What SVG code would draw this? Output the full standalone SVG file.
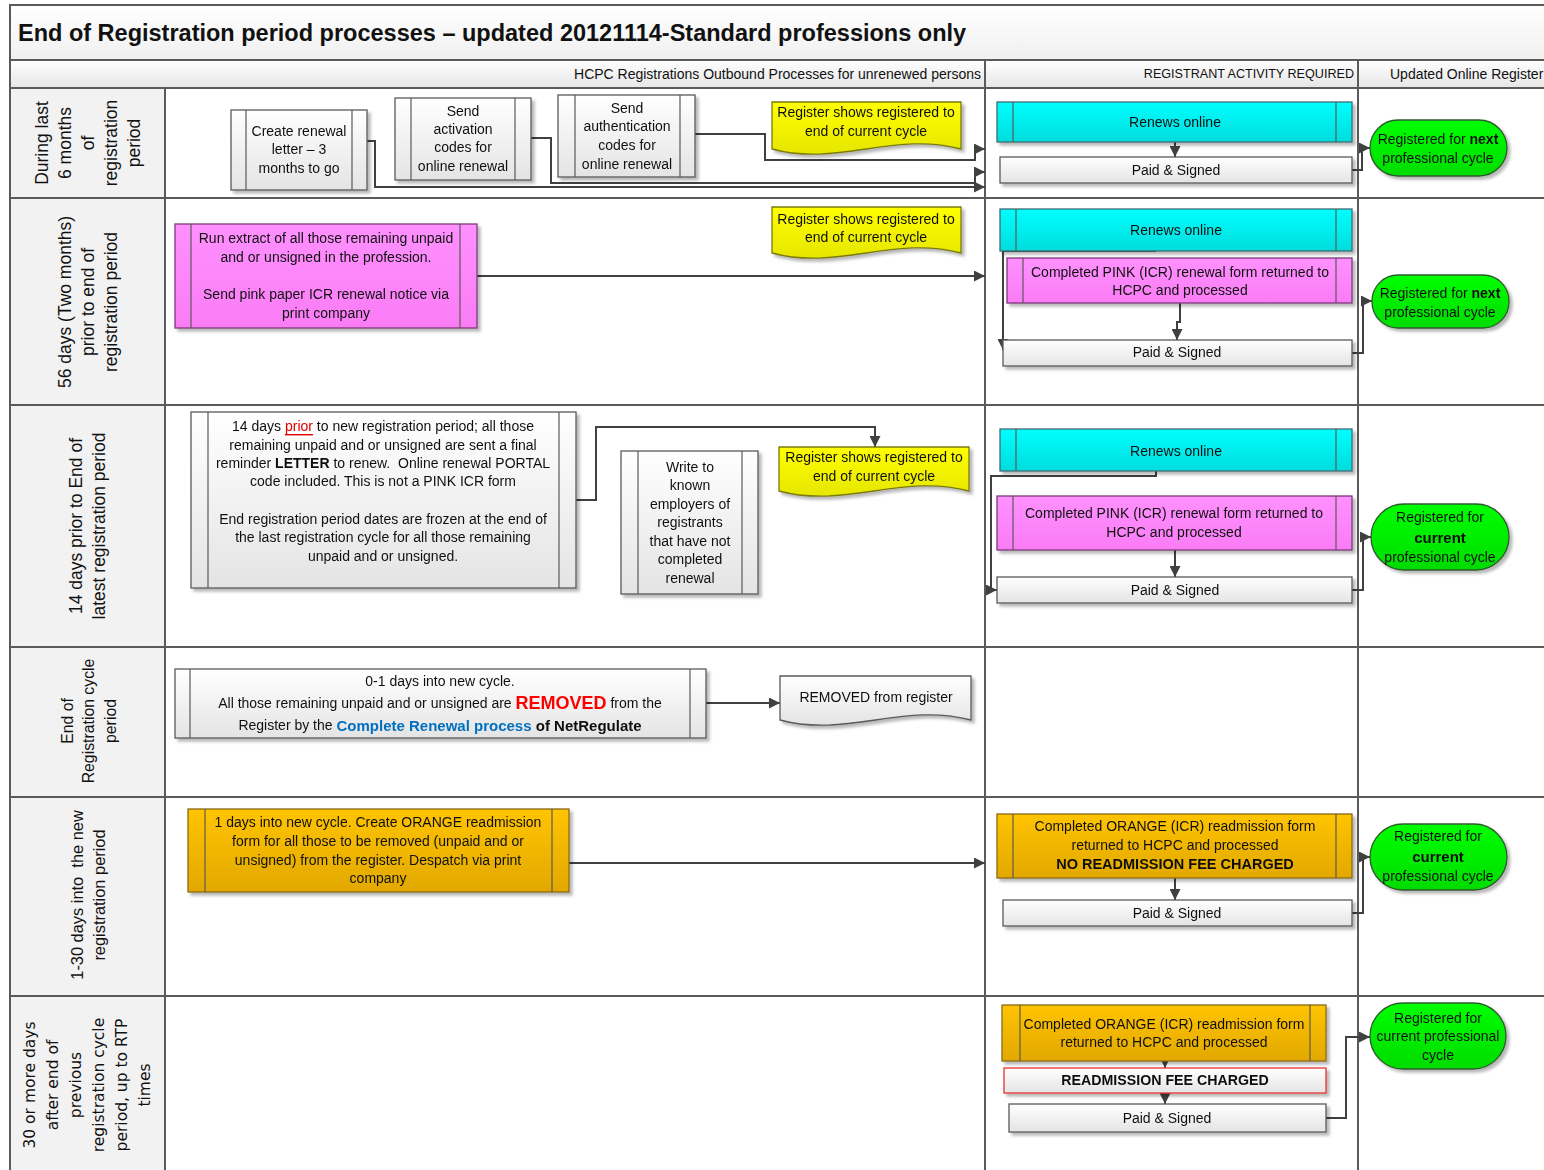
<svg xmlns="http://www.w3.org/2000/svg" width="1544" height="1170" viewBox="0 0 1544 1170">
<defs>
<style>
.t{font-family:"Liberation Sans",Arial,sans-serif;font-size:14px;fill:#111;text-anchor:middle;dominant-baseline:central}
.lane{font-family:"Liberation Sans",Arial,sans-serif;font-size:17.5px;fill:#111;text-anchor:middle;dominant-baseline:central}
.hdr{font-family:"Liberation Sans",Arial,sans-serif;font-size:14px;fill:#111;dominant-baseline:central}
.b{font-weight:bold}
.box{stroke:#5a5a5a;stroke-width:1.3}
.inner{stroke:#5a5a5a;stroke-width:1.2}
.grid{stroke:#5a5a5a;stroke-width:2;fill:none}
.c{stroke:#404040;stroke-width:2;fill:none;marker-end:url(#arr)}
.w{fill:url(#gW)}
.cy{fill:url(#gC);stroke:#3f6c74}
.pk{fill:url(#gP);stroke:#7a3a7a}
.ye{fill:url(#gY);stroke:#7a7a10}
.or{fill:url(#gO);stroke:#8a6a10}
.gr{fill:url(#gG);stroke:#2c5c2c}
</style>
<linearGradient id="gW" x1="0" y1="0" x2="0" y2="1"><stop offset="0" stop-color="#ffffff"/><stop offset="1" stop-color="#e4e4e4"/></linearGradient>
<linearGradient id="gH" x1="0" y1="0" x2="0" y2="1"><stop offset="0" stop-color="#ffffff"/><stop offset="1" stop-color="#e6e6e6"/></linearGradient>
<linearGradient id="gT" x1="0" y1="0" x2="0" y2="1"><stop offset="0" stop-color="#ffffff"/><stop offset="1" stop-color="#f0f0f0"/></linearGradient>
<linearGradient id="gC" x1="0" y1="0" x2="0" y2="1"><stop offset="0" stop-color="#00ffff"/><stop offset="1" stop-color="#00dcdc"/></linearGradient>
<linearGradient id="gP" x1="0" y1="0" x2="0" y2="1"><stop offset="0" stop-color="#ff90ff"/><stop offset="1" stop-color="#fa7cf5"/></linearGradient>
<linearGradient id="gY" x1="0" y1="0" x2="0" y2="1"><stop offset="0" stop-color="#ffff00"/><stop offset="1" stop-color="#e6e600"/></linearGradient>
<linearGradient id="gO" x1="0" y1="0" x2="0" y2="1"><stop offset="0" stop-color="#ffc400"/><stop offset="1" stop-color="#e2a800"/></linearGradient>
<linearGradient id="gG" x1="0" y1="0" x2="0" y2="1"><stop offset="0" stop-color="#00ff00"/><stop offset="1" stop-color="#00dc00"/></linearGradient>
<filter id="sh" x="-10%" y="-10%" width="130%" height="140%"><feDropShadow dx="3" dy="3" stdDeviation="1.5" flood-color="#000" flood-opacity="0.28"/></filter>
<marker id="arr" markerUnits="userSpaceOnUse" markerWidth="11" markerHeight="11" refX="11" refY="5.5" orient="auto"><path d="M0,0 L11,5.5 L0,11 Z" fill="#404040"/></marker>
</defs>

<g id="frame">
<rect x="10" y="5" width="1534" height="55" fill="url(#gT)"/>
<rect x="10" y="60" width="1534" height="28" fill="url(#gH)"/>
<rect x="10" y="88" width="155" height="1082" fill="#f2f2f2"/>
<rect x="165" y="88" width="1379" height="1082" fill="#ffffff"/>
<path class="grid" d="M10,1170 V5 H1544 M10,60 H1544 M10,88 H1544 M10,198 H1544 M10,405 H1544 M10,647 H1544 M10,797 H1544 M10,996 H1544 M165,88 V1170 M985,60 V1170 M1358,60 V1170"/>
<text x="18" y="33" font-family="'Liberation Sans',Arial,sans-serif" font-size="23.5" font-weight="bold" fill="#111" dominant-baseline="central">End of Registration period processes – updated 20121114-Standard professions only</text>
<text class="hdr" x="981" y="74" text-anchor="end">HCPC Registrations Outbound Processes for unrenewed persons</text>
<text class="hdr" x="1354" y="74" text-anchor="end" style="font-size:12.6px">REGISTRANT ACTIVITY REQUIRED</text>
<text class="hdr" x="1390" y="74">Updated Online Register</text>
</g>

<g id="lanes">
<text class="lane" transform="translate(88,143) rotate(-90)"><tspan x="0" y="-46">During last</tspan><tspan x="0" y="-23">6 months</tspan><tspan x="0" y="0">of</tspan><tspan x="0" y="23">registration</tspan><tspan x="0" y="46">period</tspan></text>
<text class="lane" transform="translate(88,302) rotate(-90)"><tspan x="0" y="-23">56 days (Two months)</tspan><tspan x="0" y="0">prior to end of</tspan><tspan x="0" y="23">registration period</tspan></text>
<text class="lane" transform="translate(88,526) rotate(-90)"><tspan x="0" y="-12">14 days prior to End of</tspan><tspan x="0" y="11">latest registration period</tspan></text>
<text class="lane" style="font-size:15.8px" transform="translate(88,721) rotate(-90)"><tspan x="0" y="-21">End of</tspan><tspan x="0" y="0">Registration cycle</tspan><tspan x="0" y="22">period</tspan></text>
<text class="lane" style="font-size:16.4px" transform="translate(88,895) rotate(-90)"><tspan x="0" y="-11">1-30 days into&#160; the new</tspan><tspan x="0" y="11">registration period</tspan></text>
<text class="lane" style="font-family:'DejaVu Sans',sans-serif;font-size:15.5px" transform="translate(88,1085) rotate(-90)"><tspan x="0" y="-58">30 or more days</tspan><tspan x="0" y="-35">after end of</tspan><tspan x="0" y="-12">previous</tspan><tspan x="0" y="11">registration cycle</tspan><tspan x="0" y="34">period, up to RTP</tspan><tspan x="0" y="57">times</tspan></text>
</g>

<g id="connectors">
<path class="c" d="M367,141 H375 V187 H985"/>
<path class="c" d="M531,138 H551 V183 H975 V172 H985"/>
<path class="c" d="M695,134 H765 V160 H975 V149 H985"/>
<path class="c" d="M1175,142 V157"/>
<path class="c" d="M1352,170 H1362 V148 H1370"/>
<path class="c" d="M477,276 H985"/>
<path class="c" d="M1156,251 H1003 V350"/>
<path class="c" d="M1180,303 V322 H1177 V340"/>
<path class="c" d="M1352,353 H1363 V301 H1372"/>
<path class="c" d="M576,500 H596 V427 H875 V447"/>
<path class="c" d="M1156,471 V476 H991 V590 H997"/>
<path class="c" d="M1175,550 V577"/>
<path class="c" d="M1352,590 H1363 V537 H1371"/>
<path class="c" d="M706,703 H780"/>
<path class="c" d="M569,863 H985"/>
<path class="c" d="M1175,878 V900"/>
<path class="c" d="M1352,913 H1363 V857 H1370"/>
<path class="c" d="M1165,1061 V1068"/>
<path class="c" d="M1165,1093 V1104"/>
<path class="c" d="M1326,1118 H1346 V1037 H1370"/>
</g>

<g id="n-create-letter" filter="url(#sh)">
<rect class="box w" x="231" y="110" width="136" height="80"/>
<path class="inner" d="M246,110 V190 M352,110 V190"/>
<text class="t" x="299" y="131">Create renewal</text><text class="t" x="299" y="149">letter – 3</text><text class="t" x="299" y="168">months to go</text>
</g>
<g id="n-activation" filter="url(#sh)">
<rect class="box w" x="395" y="98" width="136" height="82"/>
<path class="inner" d="M411,98 V180 M515,98 V180"/>
<text class="t" x="463" y="111">Send</text><text class="t" x="463" y="129">activation</text><text class="t" x="463" y="147">codes for</text><text class="t" x="463" y="166">online renewal</text>
</g>
<g id="n-authentication" filter="url(#sh)">
<rect class="box w" x="558" y="95" width="137" height="82"/>
<path class="inner" d="M575,95 V177 M680,95 V177"/>
<text class="t" x="627" y="108">Send</text><text class="t" x="627" y="126">authentication</text><text class="t" x="627" y="145">codes for</text><text class="t" x="627" y="164">online renewal</text>
</g>
<g id="n-doc1" filter="url(#sh)">
<path class="box ye" d="M772,102 H961 V149 C895,131 838,167 772,149 Z"/>
<text class="t" x="866" y="112">Register shows registered to</text><text class="t" x="866" y="131">end of current cycle</text>
</g>
<g id="n-renews1" filter="url(#sh)">
<rect class="box cy" x="997" y="102" width="355" height="40"/>
<path class="inner" d="M1013,102 V142 M1336,102 V142"/>
<text class="t" x="1175" y="122">Renews online</text>
</g>
<g id="n-paid1" filter="url(#sh)">
<rect class="box w" x="1000" y="157" width="352" height="26"/>
<text class="t" x="1176" y="170">Paid &amp; Signed</text>
</g>
<g id="n-green1" filter="url(#sh)">
<rect class="box gr" x="1370" y="120" width="137" height="56" rx="28"/>
<text class="t" x="1438" y="139">Registered for <tspan class="b">next</tspan></text><text class="t" x="1438" y="158">professional cycle</text>
</g>

<g id="n-extract" filter="url(#sh)">
<rect class="box pk" x="175" y="224" width="302" height="104"/>
<path class="inner" d="M191,224 V328 M460,224 V328"/>
<text class="t" x="326" y="238">Run extract of all those remaining unpaid</text><text class="t" x="326" y="257">and or unsigned in the profession.</text><text class="t" x="326" y="294">Send pink paper ICR renewal notice via</text><text class="t" x="326" y="313">print company</text>
</g>
<g id="n-doc2" filter="url(#sh)">
<path class="box ye" d="M772,207 H961 V253 C895,235 838,271 772,253 Z"/>
<text class="t" x="866" y="219">Register shows registered to</text><text class="t" x="866" y="237">end of current cycle</text>
</g>
<g id="n-renews2" filter="url(#sh)">
<rect class="box cy" x="1000" y="209" width="352" height="42"/>
<path class="inner" d="M1016,209 V251 M1336,209 V251"/>
<text class="t" x="1176" y="230">Renews online</text>
</g>
<g id="n-pink2" filter="url(#sh)">
<rect class="box pk" x="1007" y="258" width="345" height="45"/>
<path class="inner" d="M1023,258 V303 M1336,258 V303"/>
<text class="t" x="1180" y="272">Completed PINK (ICR) renewal form returned to</text><text class="t" x="1180" y="290">HCPC and processed</text>
</g>
<g id="n-paid2" filter="url(#sh)">
<rect class="box w" x="1003" y="340" width="349" height="26"/>
<text class="t" x="1177" y="352">Paid &amp; Signed</text>
</g>
<g id="n-green2" filter="url(#sh)">
<rect class="box gr" x="1372" y="275" width="137" height="53" rx="26"/>
<text class="t" x="1440" y="293">Registered for <tspan class="b">next</tspan></text><text class="t" x="1440" y="312">professional cycle</text>
</g>

<g id="n-final-reminder" filter="url(#sh)">
<rect class="box w" x="191" y="412" width="385" height="176"/>
<path class="inner" d="M208,412 V588 M559,412 V588"/>
<text class="t" x="383" y="426">14 days <tspan fill="#e00000" text-decoration="underline">prior</tspan> to new registration period; all those</text>
<text class="t" x="383" y="445">remaining unpaid and or unsigned are sent a final</text>
<text class="t" x="383" y="463">reminder <tspan class="b">LETTER</tspan> to renew.&#160; Online renewal PORTAL</text>
<text class="t" x="383" y="481">code included. This is not a PINK ICR form</text>
<text class="t" x="383" y="519">End registration period dates are frozen at the end of</text>
<text class="t" x="383" y="537">the last registration cycle for all those remaining</text>
<text class="t" x="383" y="556">unpaid and or unsigned.</text>
</g>
<g id="n-employers" filter="url(#sh)">
<rect class="box w" x="621" y="451" width="137" height="143"/>
<path class="inner" d="M638,451 V594 M742,451 V594"/>
<text class="t" x="690" y="467">Write to</text><text class="t" x="690" y="485">known</text><text class="t" x="690" y="504">employers of</text><text class="t" x="690" y="522">registrants</text><text class="t" x="690" y="541">that have not</text><text class="t" x="690" y="559">completed</text><text class="t" x="690" y="578">renewal</text>
</g>
<g id="n-doc3" filter="url(#sh)">
<path class="box ye" d="M779,447 H969 V491 C903,473 845,509 779,491 Z"/>
<text class="t" x="874" y="457">Register shows registered to</text><text class="t" x="874" y="476">end of current cycle</text>
</g>
<g id="n-renews3" filter="url(#sh)">
<rect class="box cy" x="1000" y="429" width="352" height="42"/>
<path class="inner" d="M1016,429 V471 M1336,429 V471"/>
<text class="t" x="1176" y="451">Renews online</text>
</g>
<g id="n-pink3" filter="url(#sh)">
<rect class="box pk" x="997" y="496" width="355" height="54"/>
<path class="inner" d="M1013,496 V550 M1336,496 V550"/>
<text class="t" x="1174" y="513">Completed PINK (ICR) renewal form returned to</text><text class="t" x="1174" y="532">HCPC and processed</text>
</g>
<g id="n-paid3" filter="url(#sh)">
<rect class="box w" x="997" y="577" width="355" height="26"/>
<text class="t" x="1175" y="590">Paid &amp; Signed</text>
</g>
<g id="n-green3" filter="url(#sh)">
<rect class="box gr" x="1371" y="504" width="138" height="66" rx="33"/>
<text class="t" x="1440" y="517">Registered for</text><text class="t b" x="1440" y="537" style="font-size:15px">current</text><text class="t" x="1440" y="557">professional cycle</text>
</g>

<g id="n-removed-process" filter="url(#sh)">
<rect class="box w" x="175" y="669" width="531" height="69"/>
<path class="inner" d="M190,669 V738 M690,669 V738"/>
<text class="t" x="440" y="681">0-1 days into new cycle.</text>
<text class="t" x="440" y="703">All those remaining unpaid and or unsigned are <tspan class="b" fill="#ff0000" style="font-size:18px">REMOVED</tspan> from the</text>
<text class="t" x="440" y="725">Register by the <tspan class="b" fill="#0070c0" style="font-size:15px">Complete Renewal process</tspan><tspan class="b" style="font-size:15px"> of NetRegulate</tspan></text>
</g>
<g id="n-removed-doc" filter="url(#sh)">
<path class="box w" d="M780,676 H971 V720 C904,702 847,738 780,720 Z"/>
<text class="t" x="876" y="697">REMOVED from register</text>
</g>

<g id="n-orange-create" filter="url(#sh)">
<rect class="box or" x="188" y="809" width="381" height="83"/>
<path class="inner" d="M205,809 V892 M552,809 V892"/>
<text class="t" x="378" y="822">1 days into new cycle. Create ORANGE readmission</text><text class="t" x="378" y="841">form for all those to be removed (unpaid and or</text><text class="t" x="378" y="860">unsigned) from the register. Despatch via print</text><text class="t" x="378" y="878">company</text>
</g>
<g id="n-orange-returned" filter="url(#sh)">
<rect class="box or" x="997" y="814" width="355" height="64"/>
<path class="inner" d="M1013,814 V878 M1336,814 V878"/>
<text class="t" x="1175" y="826">Completed ORANGE (ICR) readmission form</text><text class="t" x="1175" y="845">returned to HCPC and processed</text><text class="t b" x="1175" y="864" style="font-size:14.5px">NO READMISSION FEE CHARGED</text>
</g>
<g id="n-paid5" filter="url(#sh)">
<rect class="box w" x="1003" y="900" width="349" height="26"/>
<text class="t" x="1177" y="913">Paid &amp; Signed</text>
</g>
<g id="n-green5" filter="url(#sh)">
<rect class="box gr" x="1370" y="824" width="137" height="66" rx="33"/>
<text class="t" x="1438" y="836">Registered for</text><text class="t b" x="1438" y="856" style="font-size:15px">current</text><text class="t" x="1438" y="876">professional cycle</text>
</g>

<g id="n-orange-rtp" filter="url(#sh)">
<rect class="box or" x="1002" y="1005" width="324" height="56"/>
<path class="inner" d="M1020,1005 V1061 M1310,1005 V1061"/>
<text class="t" x="1164" y="1024">Completed ORANGE (ICR) readmission form</text><text class="t" x="1164" y="1042">returned to HCPC and processed</text>
</g>
<g id="n-fee" filter="url(#sh)">
<rect class="w" x="1004" y="1068" width="322" height="25" stroke="#e83030" stroke-width="1.3"/>
<text class="t b" x="1165" y="1080" style="font-size:14.2px">READMISSION FEE CHARGED</text>
</g>
<g id="n-paid6" filter="url(#sh)">
<rect class="box w" x="1009" y="1104" width="317" height="28"/>
<text class="t" x="1167" y="1118">Paid &amp; Signed</text>
</g>
<g id="n-green6" filter="url(#sh)">
<rect class="box gr" x="1370" y="1003" width="136" height="66" rx="33"/>
<text class="t" x="1438" y="1018">Registered for</text><text class="t" x="1438" y="1036">current professional</text><text class="t" x="1438" y="1055">cycle</text>
</g>
</svg>
